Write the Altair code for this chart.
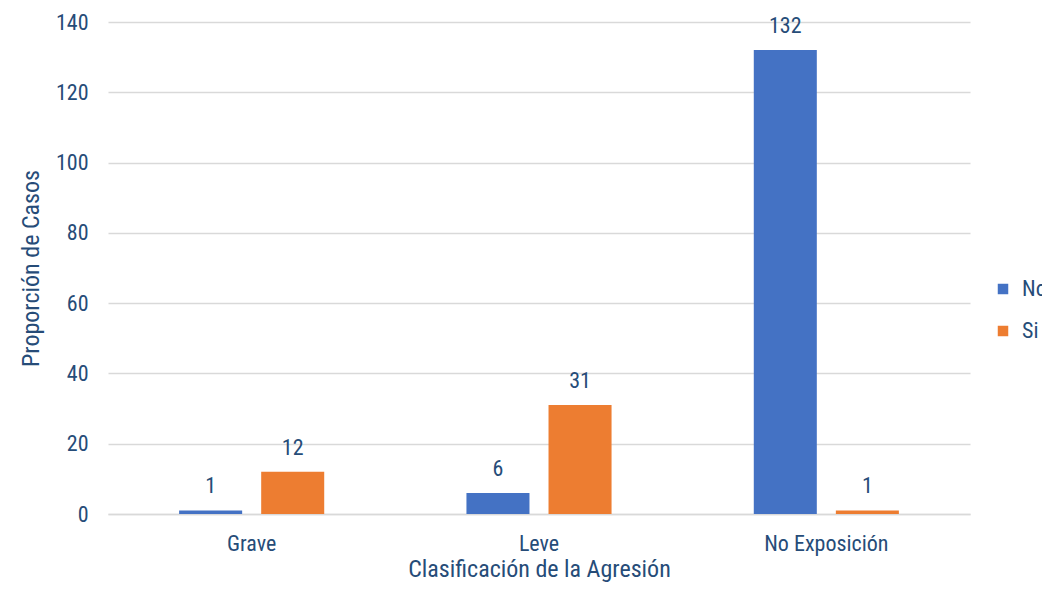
import altair as alt
import pandas as pd

categories = ["Grave", "Leve", "No Exposición"]
series = ["No", "Si"]
no_values = [1, 6, 132]
si_values = [12, 31, 1]

rows = []
for c, v in zip(categories, no_values):
    rows.append({"cat": c, "serie": "No", "valor": v})
for c, v in zip(categories, si_values):
    rows.append({"cat": c, "serie": "Si", "valor": v})
df = pd.DataFrame(rows)

FONT = "Roboto Condensed, DejaVu Sans Condensed, Liberation Sans, sans-serif"
TXT = "#264C78"

x = alt.X("cat:N", sort=categories, title="Clasificación de la Agresión",
          scale=alt.Scale(paddingInner=0.495, paddingOuter=0.2475),
          axis=alt.Axis(labelAngle=0, ticks=False, domainColor="#d9d9d9", domainWidth=1.5,
                        labelPadding=19, titlePadding=3, grid=False))
xo = alt.XOffset("serie:N", sort=series, scale=alt.Scale(paddingInner=0.232, paddingOuter=0))
y = alt.Y("valor:Q", title="Proporción de Casos",
          scale=alt.Scale(domain=[0, 140], nice=False),
          axis=alt.Axis(values=list(range(0, 141, 20)), ticks=False, domain=False,
                        labelPadding=20, titlePadding=12, gridColor="#d9d9d9", gridWidth=1.5))
color = alt.Color("serie:N", sort=series,
                  scale=alt.Scale(domain=series, range=["#4472C4", "#ED7D31"]),
                  legend=alt.Legend(title=None, orient="none", legendX=884, legendY=256,
                                    symbolType="square", symbolSize=110, symbolStrokeWidth=0,
                                    labelFontSize=22, labelFont=FONT, labelColor=TXT,
                                    rowPadding=20, labelOffset=8))

base = alt.Chart(df)
bars = base.mark_bar().encode(x=x, xOffset=xo, y=y, color=color)
labels = base.mark_text(baseline="bottom", dy=-12, fontSize=22, font=FONT, color=TXT).encode(
    x=x, xOffset=xo, y=y, text="valor:Q")

chart = (bars + labels).properties(
    width=862, height=492,
    autosize=alt.AutoSizeParams(type="none"),
    padding={"left": 100, "top": 14, "right": 72, "bottom": 71},
).configure_view(stroke=None).configure_axis(
    labelFont=FONT, titleFont=FONT, labelFontSize=22, titleFontSize=24,
    labelColor=TXT, titleColor=TXT, titleFontWeight="normal"
)

chart.save("out.html", embed_options={"renderer": "svg", "actions": False})
